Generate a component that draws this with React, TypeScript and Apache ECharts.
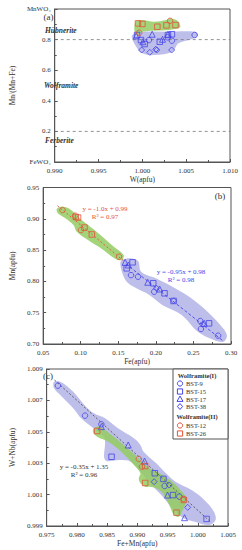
import React, { useEffect, useRef } from "react";
import * as echarts from "echarts";

// ---------- Panel (a): W(apfu) vs Mn/(Mn+Fe) ----------
const aBST9 = [[1.00075, 0.797], [1.00596, 0.830], [1.00337, 0.793], [1.00288, 0.815]];
const aBST15 = [[0.9994, 0.830], [0.99984, 0.797], [1.00026, 0.771], [1.00199, 0.786], [1.00337, 0.835], [1.00292, 0.830]];
const aBST17 = [[0.9993, 0.824], [1.00005, 0.786], [1.00112, 0.835], [1.0023, 0.802], [1.00292, 0.835]];
const aBST38 = [[0.99992, 0.732], [1.00085, 0.717], [1.00153, 0.737], [1.00164, 0.732], [1.00334, 0.732]];
const aBST12 = [[0.99964, 0.845], [1.00316, 0.923]];
const aBST26 = [[0.9995, 0.906], [1.0, 0.902], [1.00171, 0.884], [1.00275, 0.893], [1.00378, 0.895]];
const aBlueHull = [[0.99912, 0.841], [0.99981, 0.852], [1.00275, 0.852], [1.00603, 0.852], [1.00637, 0.830], [1.00585, 0.808], [1.00412, 0.776], [1.00344, 0.721], [1.00137, 0.699], [0.99998, 0.710], [0.9993, 0.754], [0.99878, 0.819]];
const aGreenHull = [[0.99912, 0.895], [0.9993, 0.924], [0.99998, 0.928], [1.00137, 0.917], [1.00275, 0.928], [1.00326, 0.939], [1.00412, 0.917], [1.0043, 0.880], [1.00309, 0.863], [1.00137, 0.858], [0.99998, 0.852], [0.99946, 0.830], [0.99912, 0.852]];
const aBoundaries = [0.8, 0.2];

// ---------- Panel (b): Fe(apfu) vs Mn(apfu) ----------
const bBST12 = [[0.0758, 0.914], [0.0925, 0.905], [0.1003, 0.882], [0.151, 0.8395]];
const bBST26 = [[0.0935, 0.903], [0.0965, 0.902], [0.105, 0.886], [0.1148, 0.875]];
const bBST9 = [[0.1669, 0.81], [0.1763, 0.8075], [0.1978, 0.7835], [0.2592, 0.7367], [0.26, 0.724], [0.2829, 0.7133]];
const bBST15 = [[0.1612, 0.8209], [0.169, 0.8305], [0.1965, 0.797], [0.2115, 0.781], [0.2236, 0.7687], [0.2708, 0.733]];
const bBST17 = [[0.1591, 0.8305], [0.1634, 0.8262], [0.1892, 0.7986], [0.205, 0.7879], [0.2643, 0.733]];
const bBST38 = [[0.2008, 0.789], [0.2622, 0.7315], [0.2236, 0.769]];
const bRedLine = [[0.069, 0.921], [0.158, 0.832]];
const bBlueLine = [[0.16, 0.828], [0.29, 0.7045]];
const bGreenHull = [[0.0689, 0.9168], [0.0732, 0.9193], [0.0839, 0.9168], [0.1012, 0.8981], [0.1183, 0.8821], [0.1441, 0.8554], [0.157, 0.8422], [0.1548, 0.8342], [0.1463, 0.8358], [0.1269, 0.8529], [0.1097, 0.8661], [0.0947, 0.8794], [0.0903, 0.8901], [0.0796, 0.9008], [0.071, 0.9072], [0.068, 0.9125]];
const bBlueHull = [[0.1548, 0.8342], [0.1656, 0.8369], [0.1763, 0.8326], [0.1805, 0.8155], [0.1999, 0.8049], [0.2256, 0.789], [0.2472, 0.773], [0.2687, 0.7516], [0.2858, 0.7304], [0.2945, 0.7144], [0.2901, 0.7037], [0.2772, 0.7064], [0.2558, 0.7196], [0.2343, 0.7463], [0.2085, 0.7623], [0.1914, 0.7783], [0.1741, 0.789], [0.1612, 0.7995], [0.1548, 0.8155], [0.1527, 0.8289]];

// ---------- Panel (c): Fe+Mn(apfu) vs W+Nb(apfu) ----------
const cBST9 = [[0.97686, 1.00794], [0.98135, 1.00603], [0.98405, 1.00548], [0.99452, 1.00155], [0.99695, 1.00087]];
const cBST15 = [[0.98574, 1.00341], [0.99289, 1.00236], [0.99432, 1.002], [0.9959, 1.00097], [1.00146, 0.99945]];
const cBST17 = [[0.98405, 1.00533], [0.98849, 1.00416], [0.99119, 1.00314], [0.995, 1.00097], [0.99781, 0.99953]];
const cBST38 = [[0.99278, 1.00182], [0.99527, 1.00161], [0.99833, 1.00019]];
const cBST12 = [[0.99024, 1.00327], [0.99077, 1.00278], [0.99765, 1.00072]];
const cBST26 = [[0.98336, 1.00505], [0.9913, 1.00282], [0.9913, 1.00174], [0.99648, 0.99985], [0.9977, 1.00066]];
const cLine = [[0.9763, 1.0083], [1.0022, 0.99923]];
const cBlueHull = [[0.97622, 1.00819], [0.97727, 1.00819], [0.9794, 1.00755], [0.98151, 1.0066], [0.98283, 1.00618], [0.98468, 1.00586], [0.9868, 1.00522], [0.98944, 1.00459], [0.99051, 1.00416], [0.99103, 1.00373], [0.99314, 1.00299], [0.99473, 1.00236], [0.99632, 1.00182], [0.99897, 1.00129], [1.00108, 1.00066], [1.00267, 0.99991], [1.00294, 0.99938], [1.00187, 0.99906], [0.99949, 0.99927], [0.99765, 0.99949], [0.99606, 1.00002], [0.99421, 1.00087], [0.99209, 1.00172], [0.99051, 1.00246], [0.98892, 1.0031], [0.98706, 1.0032], [0.98468, 1.0032], [0.98457, 1.00459], [0.9831, 1.00511], [0.98071, 1.00586], [0.9794, 1.0065], [0.97754, 1.00724], [0.97622, 1.00777]];
const cGreenHull = [[0.98283, 1.00522], [0.98362, 1.00533], [0.98575, 1.0048], [0.98838, 1.00395], [0.99051, 1.0032], [0.99209, 1.00267], [0.99421, 1.00225], [0.99606, 1.00172], [0.99738, 1.00118], [0.99817, 1.00076], [0.9979, 1.00034], [0.99738, 0.99991], [0.99686, 0.99959], [0.99606, 0.9997], [0.99527, 1.00034], [0.99421, 1.00108], [0.99314, 1.0014], [0.99209, 1.0015], [0.9913, 1.0015], [0.99051, 1.00172], [0.99024, 1.00204], [0.99051, 1.00236], [0.98944, 1.00289], [0.98733, 1.00373], [0.98521, 1.00437], [0.98336, 1.00469], [0.98267, 1.00497]];

const legendGroup1 = ["BST-9", "BST-15", "BST-17", "BST-38"];
const legendGroup2 = ["BST-12", "BST-26"];

const FONT = "'Liberation Serif', 'DejaVu Serif', serif";
const BLUE = "#4545e8";
const RED = "#e4523a";
const BLUE_FILL = "rgba(150,150,222,0.62)";
const GREEN_FILL = "rgba(148,204,98,0.85)";
const AXIS = "#555";
const TXT = "#333";

function valueAxis(gridIndex: number, min: number, max: number, interval: number, digits: number, name: string, nameGap: number, isY: boolean, fmt?: (v: number) => string) {
  return {
    type: "value",
    gridIndex,
    min,
    max,
    interval,
    name,
    nameLocation: "middle",
    nameGap,
    nameTextStyle: { fontFamily: FONT, fontSize: 7.5, color: TXT },
    axisLine: { show: true, onZero: false, lineStyle: { color: AXIS, width: 1 } },
    axisTick: { show: true, inside: true, length: 3, lineStyle: { color: AXIS } },
    minorTick: { show: true, splitNumber: 2, length: 2, lineStyle: { color: AXIS } },
    splitLine: { show: false },
    axisLabel: {
      fontFamily: FONT,
      fontSize: 7,
      color: TXT,
      margin: isY ? 4 : 5,
      formatter: fmt ? fmt : (v: number) => v.toFixed(digits),
    },
  };
}

function scatter(data: number[][], symbol: string, color: string, xi: number, size = 5.5) {
  return {
    type: "scatter",
    xAxisIndex: xi,
    yAxisIndex: xi,
    data,
    symbol,
    symbolSize: symbol === "triangle" ? 6 : symbol === "diamond" ? 6 : size,
    itemStyle: { color: "rgba(0,0,0,0)", borderColor: color, borderWidth: 1 },
    z: 5,
    silent: true,
  };
}

function hull(points: number[][], fill: string, xi: number, z: number) {
  return {
    type: "custom",
    xAxisIndex: xi,
    yAxisIndex: xi,
    data: [points[0]],
    z,
    silent: true,
    clip: true,
    renderItem: (_params: any, api: any) => ({
      type: "polygon",
      shape: { points: points.map((p) => api.coord(p)), smooth: 0.35 },
      style: { fill, stroke: "none" },
    }),
  };
}

function line(data: number[][], color: string, xi: number, type: any, width = 1) {
  return {
    type: "line",
    xAxisIndex: xi,
    yAxisIndex: xi,
    data,
    symbol: "none",
    lineStyle: { color, width, type },
    z: 3,
    silent: true,
  };
}

function txt(x: number, y: number, text: string, opts: any = {}) {
  return {
    type: "text",
    x,
    y,
    silent: true,
    z: 20,
    style: {
      text,
      fontFamily: FONT,
      fontSize: opts.fontSize ?? 7,
      fontWeight: opts.fontWeight ?? "normal",
      fontStyle: opts.fontStyle ?? "normal",
      fill: opts.fill ?? TXT,
      align: opts.align ?? "center",
      verticalAlign: "middle",
    },
  };
}

function legendSymbol(kind: string, cx: number, cy: number, color: string) {
  const style = { fill: "none", stroke: color, lineWidth: 1 };
  if (kind === "circle") return { type: "circle", shape: { cx, cy, r: 2.6 }, style, z: 20 };
  if (kind === "rect") return { type: "rect", shape: { x: cx - 2.6, y: cy - 2.6, width: 5.2, height: 5.2 }, style, z: 20 };
  if (kind === "triangle") return { type: "polygon", shape: { points: [[cx, cy - 3], [cx + 3, cy + 2.4], [cx - 3, cy + 2.4]] }, style, z: 20 };
  return { type: "polygon", shape: { points: [[cx, cy - 3], [cx + 2.6, cy], [cx, cy + 3], [cx - 2.6, cy]] }, style, z: 20 };
}

export default function App() {
  const ref = useRef<HTMLDivElement>(null);
  useEffect(() => {
    document.body.style.margin = "0";
    if (!ref.current) return;
    const chart = echarts.init(ref.current, undefined, { renderer: "svg" });
    const grids = [
      { left: 37, top: 9, width: 193, height: 153 },
      { left: 37, top: 187.5, width: 194, height: 156.5 },
      { left: 39, top: 369, width: 189, height: 157 },
    ].map((g) => ({ ...g, show: true, borderColor: AXIS, borderWidth: 1, backgroundColor: "transparent", containLabel: false }));

    const aFmt = (v: number) => (Math.abs(v - 1) < 1e-9 ? "MnWO₄" : Math.abs(v) < 1e-9 ? "FeWO₄" : v.toFixed(1));

    const legendItems1 = ["circle", "rect", "triangle", "diamond"];
    const legendItems2 = ["circle", "rect"];
    const ly1 = [383.5, 391.5, 399, 406.5];
    const ly2 = [425.5, 433.5];

    const graphic: any[] = [
      txt(48.5, 16.5, "(a)", { fontSize: 9 }),
      txt(45, 30, "Hübnerite", { fontSize: 7.5, fontWeight: "bold", fontStyle: "italic", align: "left" }),
      txt(44, 85, "Wolframite", { fontSize: 7.5, fontWeight: "bold", fontStyle: "italic", align: "left" }),
      txt(45, 140, "Ferberite", { fontSize: 7.5, fontWeight: "bold", fontStyle: "italic", align: "left" }),
      txt(220, 195.5, "(b)", { fontSize: 9 }),
      txt(105, 208.5, "y = -1.0x + 0.99", { fill: RED, fontSize: 7 }),
      txt(105, 216.5, "R² = 0.97", { fill: RED, fontSize: 7 }),
      txt(181, 272, "y = -0.95x + 0.98", { fill: BLUE, fontSize: 7 }),
      txt(181, 279.5, "R² = 0.98", { fill: BLUE, fontSize: 7 }),
      txt(48, 376, "(c)", { fontSize: 9 }),
      txt(84, 466.5, "y = -0.35x + 1.35", { fontSize: 7 }),
      txt(84, 474.5, "R² = 0.96", { fontSize: 7 }),
      { type: "rect", shape: { x: 173, y: 369, width: 55, height: 70 }, style: { fill: "#fff", stroke: AXIS, lineWidth: 1 }, z: 19 },
      txt(197, 375, "Wolframite(I)", { fontSize: 6.5, fontWeight: "bold" }),
      txt(197, 416.5, "Wolframite(II)", { fontSize: 6.5, fontWeight: "bold" }),
    ];
    legendGroup1.forEach((name, i) => {
      graphic.push(legendSymbol(legendItems1[i], 180, ly1[i], BLUE));
      graphic.push(txt(186, ly1[i], name, { fontSize: 6.5, align: "left" }));
    });
    legendGroup2.forEach((name, i) => {
      graphic.push(legendSymbol(legendItems2[i], 180, ly2[i], RED));
      graphic.push(txt(186, ly2[i], name, { fontSize: 6.5, align: "left" }));
    });

    const option: any = {
      animation: false,
      backgroundColor: "#fff",
      textStyle: { fontFamily: FONT },
      grid: grids,
      xAxis: [
        valueAxis(0, 0.99, 1.01, 0.005, 3, "W(apfu)", 13, false),
        valueAxis(1, 0.05, 0.3, 0.05, 2, "Fe(apfu)", 13, false),
        valueAxis(2, 0.975, 1.005, 0.005, 3, "Fe+Mn(apfu)", 13, false),
      ],
      yAxis: [
        valueAxis(0, 0, 1, 0.2, 1, "Mn/(Mn+Fe)", 27, true, aFmt),
        valueAxis(1, 0.7, 0.95, 0.05, 2, "Mn(apfu)", 26, true),
        valueAxis(2, 0.999, 1.009, 0.002, 3, "W+Nb(apfu)", 30, true),
      ],
      series: [
        // panel a
        hull(aBlueHull, BLUE_FILL, 0, 1),
        hull(aGreenHull, GREEN_FILL, 0, 2),
        ...aBoundaries.map((b) => line([[0.99, b], [1.01, b]], "#777", 0, [3, 3], 0.8)),
        scatter(aBST9, "circle", BLUE, 0),
        scatter(aBST15, "rect", BLUE, 0),
        scatter(aBST17, "triangle", BLUE, 0),
        scatter(aBST38, "diamond", BLUE, 0),
        scatter(aBST12, "circle", RED, 0),
        scatter(aBST26, "rect", RED, 0),
        // panel b
        hull(bBlueHull, BLUE_FILL, 1, 1),
        hull(bGreenHull, GREEN_FILL, 1, 2),
        line(bRedLine, RED, 1, [2, 2], 0.9),
        line(bBlueLine, BLUE, 1, [3, 2], 0.9),
        scatter(bBST9, "circle", BLUE, 1),
        scatter(bBST15, "rect", BLUE, 1),
        scatter(bBST17, "triangle", BLUE, 1),
        scatter(bBST38, "diamond", BLUE, 1),
        scatter(bBST12, "circle", RED, 1),
        scatter(bBST26, "rect", RED, 1),
        // panel c
        hull(cBlueHull, BLUE_FILL, 2, 1),
        hull(cGreenHull, GREEN_FILL, 2, 2),
        line(cLine, "#555", 2, [2, 2], 0.9),
        scatter(cBST9, "circle", BLUE, 2),
        scatter(cBST15, "rect", BLUE, 2),
        scatter(cBST17, "triangle", BLUE, 2),
        scatter(cBST38, "diamond", BLUE, 2),
        scatter(cBST12, "circle", RED, 2),
        scatter(cBST26, "rect", RED, 2),
      ],
      graphic,
    };
    chart.setOption(option);
    return () => chart.dispose();
  }, []);
  return <div ref={ref} style={{ width: 242, height: 550 }} />;
}
